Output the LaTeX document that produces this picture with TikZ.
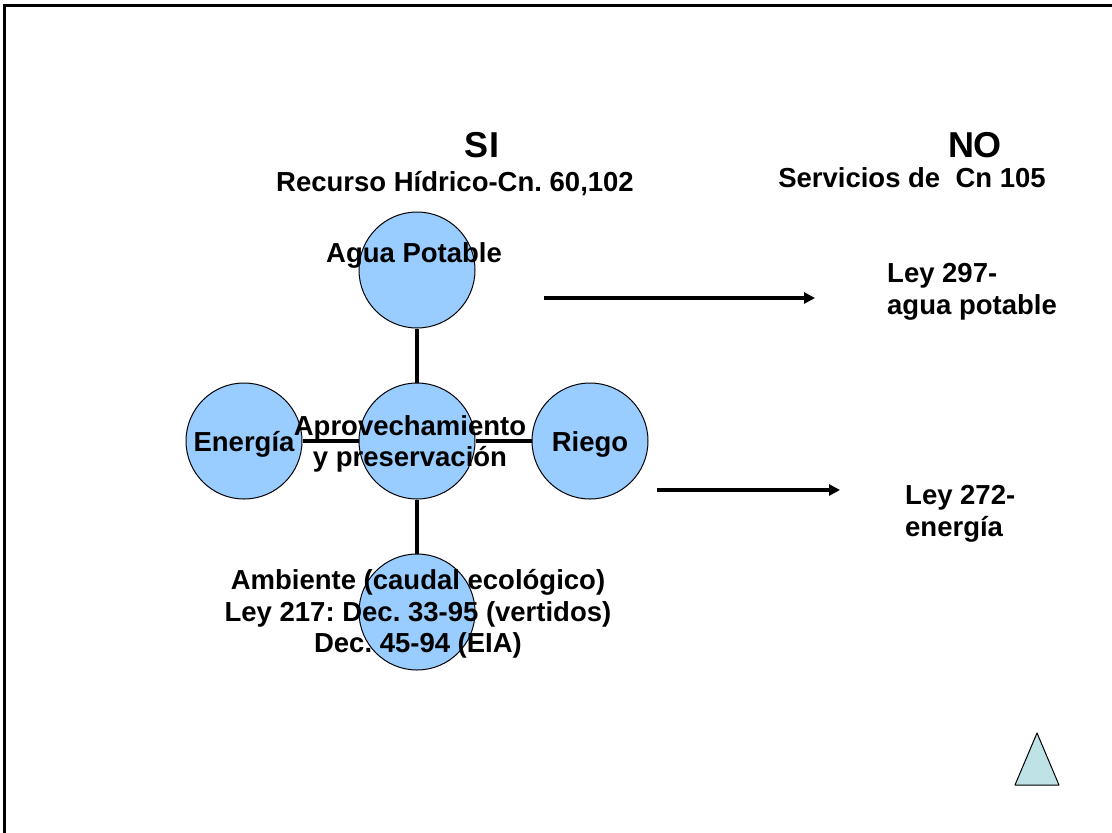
\documentclass[tikz,border=0pt]{standalone}
\usepackage{fontspec}
\setmainfont{Liberation Sans}
\usetikzlibrary{arrows.meta}
\frenchspacing

\definecolor{circblue}{HTML}{99CCFF}
\definecolor{trifill}{HTML}{BFE2E6}

\tikzset{
	circ/.style={circle, draw=black, line width=1pt, fill=circblue, minimum size=116pt, inner sep=0pt},
	conn/.style={line width=3.2pt},
	flecha/.style={line width=3.2pt, -{Triangle[length=11pt,width=11pt]}},
	txt/.style={font=\fontsize{27.5}{31.5}\selectfont\bfseries, align=center, inner sep=0pt},
	bigtxt/.style={font=\fontsize{36}{40}\selectfont\bfseries, inner sep=0pt}
}

\begin{document}
\begin{tikzpicture}[x=1pt, y=-1pt]
	% Frame
	\useasboundingbox (0,0) rectangle (1112,833);
	\clip (0,0) rectangle (1112,833);
	\fill[white] (0,0) rectangle (1112,833);
	\draw[line width=3pt] (1120,5) -- (4,5) -- (4,840);

	% Circles
	\foreach \n/\x/\y in {agua/417/270, centro/417/441, energia/244/441, riego/590/441, ambiente/417/612} {
		\node[circ] (\n) at (\x,\y) {};
	}
	\draw[conn] (agua) -- (centro);
	\draw[conn] (centro) -- (ambiente);
	\draw[conn] (energia) -- (centro);
	\draw[conn] (centro) -- (riego);

	% Titles
	\node[bigtxt] (si) at (482,145) {SI};
	\node[txt] (recurso) at (455,184) {Recurso Hídrico-Cn. 60,102};
	\node[bigtxt] (no) at (975,145) {NO};
	\node[txt] (servicios) at (912,178) {Servicios de \ Cn 105};

	% Circle texts
	\node[txt] (tagua) at (414,255) {Agua Potable};
	\node[txt] (tcentro) at (410,444) {Aprovechamiento\\y preservación};
	\node[txt] (tenergia) at (244,444) {Energía};
	\node[txt] (triego) at (590,444) {Riego};
	\node[txt] (tambiente) at (418,614) {Ambiente (caudal ecológico)\\Ley 217: Dec. 33-95 (vertidos)\\Dec. 45-94 (EIA)};

	% Laws
	\coordinate (a1) at (544,298);
	\coordinate (a2) at (815,298);
	\draw[flecha] (a1) -- (a2);
	\node[txt, align=left, anchor=west] (ley297) at (887,292) {Ley 297-\\agua potable};
	\coordinate (b1) at (657,490);
	\coordinate (b2) at (840,490);
	\draw[flecha] (b1) -- (b2);
	\node[txt, align=left, anchor=west] (ley272) at (905,514) {Ley 272-\\energía};

	% Triangle
	\draw[line width=1pt, fill=trifill, line join=round] (1037,733) -- (1059,785) -- (1015,785) -- cycle;
\end{tikzpicture}
\end{document}
